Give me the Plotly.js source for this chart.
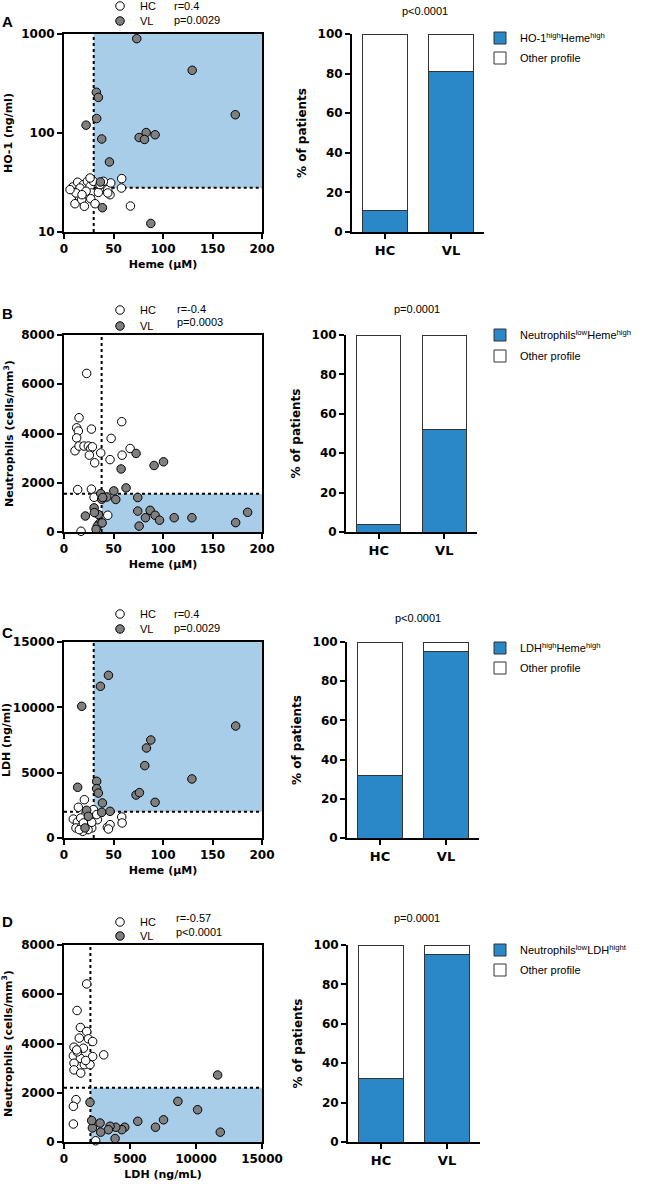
<!DOCTYPE html>
<html><head><meta charset="utf-8">
<script src="https://cdn.plot.ly/plotly-3.0.1.min.js"></script>
<style>html,body{margin:0;padding:0;background:#fff}</style>
</head><body><div id="chart" style="width:645px;height:1184px"></div>
<script>
// ---------- DATA ----------
// Panel A: Heme (uM) vs HO-1 (ng/ml)
const A_HC_heme = [8.8,11.1,13.8,13.5,15.2,17.9,20.6,19.6,23.6,26.3,28.0,27.0,31.4,29.7,34.7,36.4,44.2,47.2,46.5,58.3,58.0,67.1,16.2,22.3,12.1,18.2,26.3,39.8,44.2,6.1];
const A_HC_ho1  = [28.5,19.3,31.8,25.8,22.9,21.2,18.2,30.1,32.5,28.9,24.8,21.7,19.3,32.5,25.1,30.1,26.8,31.3,23.8,34.6,27.8,18.3,27.8,25.8,24.8,23.8,35.1,32.5,24.8,26.8];
const A_VL_heme = [73.5,129.5,173.0,32.7,34.7,33.0,22.3,38.1,75.9,83.0,81.3,92.0,45.9,36.8,38.8,87.7];
const A_VL_ho1  = [897,430,153,258,229,140,120,87,90,101,86,96,51,32,17.6,12.2];
const A_cut = [30, 28];        // heme cut, HO-1 cut
// Panel B: Heme vs Neutrophils
const B_HC_heme = [22.9,15.2,12.8,14.5,12.8,27.7,58.3,47.6,11.1,15.2,20.2,24.6,27.0,28.7,25.6,31.0,37.1,46.5,58.7,66.8,13.8,27.7,30.4,44.2,17.2];
const B_HC_neut = [6440,4640,4230,4100,3820,4180,4480,3800,3300,3490,3490,3490,3390,3460,3120,2810,3210,2940,3120,3390,1720,1740,1410,680,30];
const B_VL_heme = [72.8,91.0,100.5,57.7,62.7,50.3,52.3,43.2,37.1,38.1,39.1,74.5,30.4,21.6,34.7,35.8,33.7,32.4,38.5,74.5,75.9,82.3,87.0,92.0,96.5,111.3,129.2,173.4,185.5,30.7];
const B_VL_neut = [3190,2700,2850,2560,1790,1670,1320,1420,1560,1330,1400,1400,980,650,710,350,240,110,370,850,240,580,880,680,480,580,580,380,800,790];
const B_cut = [38, 1550];
// Panel C: Heme vs LDH
const C_HC_heme = [20.6,14.5,9.4,13.5,12.1,17.9,23.6,26.3,29.7,31.4,33.7,28.0,24.3,18.9,15.5,43.8,46.5,44.9,58.3,58.7,22.3,16.9,28.0,33.0,19.6];
const C_HC_ldh  = [2930,2350,1450,1220,770,890,1220,1790,2170,1530,1400,770,640,510,640,820,1020,690,1610,1150,1910,1530,1200,1790,1150];
const C_VL_heme = [44.9,36.8,17.9,173.4,87.7,83.3,81.6,129.2,33.0,33.0,34.7,13.8,72.8,76.2,92.0,38.8,38.1,46.5,22.9,21.2,24.6];
const C_VL_ldh  = [12450,11610,10080,8570,7500,6890,5540,4520,4340,3780,3440,3880,3290,3470,2730,2680,1960,2040,2120,770,1660];
const C_cut = [30, 2000];
// Panel D: LDH vs Neutrophils
const D_HC_ldh  = [1720,990,1240,1720,1160,1850,2170,760,1470,960,710,1240,1540,1970,2170,760,760,1270,3010,1010,910,710,710,2400,1640,960];
const D_HC_neut = [6420,5340,4650,4490,4220,4190,4080,3850,3810,3470,3500,3400,3140,3140,3470,3200,2930,2800,3540,3660,1720,1450,730,50,3310,3740];
const D_VL_ldh  = [11640,8630,10120,7540,6930,5590,4600,4380,3920,3490,3360,2780,2730,2150,2100,1970,11840,3870];
const D_VL_neut = [2720,1650,1310,900,600,840,600,500,600,640,500,400,770,570,870,1610,400,140];
const D_cut = [2000, 2200];
// Bars: % of patients
const groups = ['HC','VL'];
const A_high = [11, 81], A_other = [89, 19];
const B_high = [4, 52],  B_other = [96, 48];
const C_high = [32, 95], C_other = [68, 5];
const D_high = [32, 95], D_other = [68, 5];
const barNames = ['HO-1<sup>high</sup>Heme<sup>high</sup>','Neutrophils<sup>low</sup>Heme<sup>high</sup>','LDH<sup>high</sup>Heme<sup>high</sup>','Neutrophils<sup>low</sup>LDH<sup>hight</sup>'];
const barP = ['p<0.0001','p=0.0001','p<0.0001','p=0.0001'];
const corrR = ['r=0.4','r=-0.4','r=0.4','r=-0.57'];
const corrP = ['p=0.0029','p=0.0003','p=0.0029','p<0.0001'];

// ---------- STYLE ----------
const W = 645, H = 1184;
const REG = 'Liberation Sans, Arial, sans-serif';
const BOLD = 'DejaVu Sans, Arial, sans-serif';
const SHADE = '#a7cde9', BLUE = '#2a87c8', GRAY = '#7f7f7f';
const fx = p => p / W, fy = p => 1 - p / H;

// panel pixel geometry [top, bottom]
const rows = [[34,232],[335,532],[642,838],[945,1142]];
const scX = [64, 262];
const barX = [[352,484],[346,477],[347,479],[348,480]];

const tickFont = {family: BOLD, size: 12, weight: 'bold', color: '#000'};
const titleFont = {family: BOLD, size: 11, weight: 'bold', color: '#000'};

function baseAxis(extra) {
  return Object.assign({
    showline: true, linewidth: 2, linecolor: '#000', ticks: 'outside', ticklen: 5, tickwidth: 2,
    tickcolor: '#000', showgrid: false, zeroline: false, tickfont: tickFont, fixedrange: true, automargin: false
  }, extra);
}

const layout = {
  width: W, height: H, margin: {l:0, r:0, t:0, b:0, autoexpand: false}, paper_bgcolor: '#fff', plot_bgcolor: 'rgba(0,0,0,0)',
  barmode: 'stack', showlegend: true, shapes: [], annotations: []
};
const traces = [];

const scatterSets = [
  {hx: A_HC_heme, hy: A_HC_ho1, vx: A_VL_heme, vy: A_VL_ho1, cut: A_cut, xr:[0,200], yr:[10,1000], log:true,
   xt: 'Heme (μM)', yt: 'HO-1 (ng/ml)', xd: 50, yd: null, ystand: 6},
  {hx: B_HC_heme, hy: B_HC_neut, vx: B_VL_heme, vy: B_VL_neut, cut: B_cut, xr:[0,200], yr:[0,8000],
   xt: 'Heme (μM)', yt: 'Neutrophils (cells/mm<sup>3</sup>)', xd: 50, yd: 2000, ystand: 5},
  {hx: C_HC_heme, hy: C_HC_ldh, vx: C_VL_heme, vy: C_VL_ldh, cut: C_cut, xr:[0,200], yr:[0,15000],
   xt: 'Heme (μM)', yt: 'LDH (ng/ml)', xd: 50, yd: 5000, ystand: 3},
  {hx: D_HC_ldh, hy: D_HC_neut, vx: D_VL_ldh, vy: D_VL_neut, cut: D_cut, xr:[0,15000], yr:[0,8000],
   xt: 'LDH (ng/mL)', yt: 'Neutrophils (cells/mm<sup>3</sup>)', xd: 5000, yd: 2000, ystand: 7}
];
const barSets = [[A_high, A_other],[B_high, B_other],[C_high, C_other],[D_high, D_other]];

// legend / label positions (px)
const scLeg = [[6,21],[310,326],[614,629],[922,936]];
const rpY = [[6,20],[309,322],[614,628],[918,932]];
const rpX = [172,175,172,174];
const letterY = [22,313,632,921];
const barLegY = [[38,58],[335,356],[648,668],[950,970]];
const barTitle = [[425,11],[417,309],[418,618],[417,918]];

let legN = 1;
function legName() { const n = legN++; return n === 1 ? 'legend' : 'legend' + n; }
function legLayout(xPx, yPx) {
  return {x: fx(xPx), y: fy(yPx), xanchor: 'left', yanchor: 'middle', bgcolor: 'rgba(0,0,0,0)',
          borderwidth: 0, font: {family: REG, size: 11, color: '#000'}, itemclick: false, itemdoubleclick: false};
}

scatterSets.forEach((s, i) => {
  const xi = 2*i + 1, yi = 2*i + 1;
  const xk = 'xaxis' + (xi === 1 ? '' : xi), yk = 'yaxis' + (yi === 1 ? '' : yi);
  const xr = 'x' + (xi === 1 ? '' : xi), yr = 'y' + (yi === 1 ? '' : yi);
  const [top, bot] = rows[i];
  layout[xk] = baseAxis({domain: [fx(scX[0]), fx(scX[1])], anchor: yr, range: s.xr, dtick: s.xd, tick0: 0,
    mirror: true, tickformat: 'd', title: {text: s.xt, font: titleFont, standoff: 5}});
  const ya = {domain: [fy(bot), fy(top)], anchor: xr, mirror: true,
    title: {text: s.yt, font: titleFont, standoff: s.ystand}};
  if (s.log) { ya.type = 'log'; ya.range = [Math.log10(s.yr[0]), Math.log10(s.yr[1])];
               ya.tickvals = [10,100,1000]; ya.ticktext = ['10','100','1000']; }
  else { ya.range = s.yr; ya.dtick = s.yd; ya.tick0 = 0; ya.tickformat = 'd'; }
  layout[yk] = baseAxis(ya);

  const l1 = legName(), l2 = legName();
  traces.push({type:'scatter', mode:'markers', x: s.hx, y: s.hy, xaxis: xr, yaxis: yr, name: 'HC', legend: l1,
    cliponaxis: false, marker: {size: 8.5, color: '#fff', line: {color: '#000', width: 1}}, hoverinfo: 'skip'});
  traces.push({type:'scatter', mode:'markers', x: s.vx, y: s.vy, xaxis: xr, yaxis: yr, name: 'VL', legend: l2,
    cliponaxis: false, marker: {size: 8.5, color: GRAY, line: {color: '#000', width: 1}}, hoverinfo: 'skip'});
  layout[l1] = legLayout(100, scLeg[i][0]);
  layout[l2] = legLayout(100, scLeg[i][1]);

  // threshold region + dotted lines (data values)
  const [cx, cy] = s.cut;
  const yTop = s.yr[1], yBot = s.yr[0];
  let shade;
  if (i === 0 || i === 2) shade = {x0: cx, x1: s.xr[1], y0: cy, y1: yTop};
  else shade = {x0: cx, x1: s.xr[1], y0: yBot, y1: cy};
  layout.shapes.push(Object.assign({type:'rect', xref: xr, yref: yr, fillcolor: SHADE, line: {width: 0}, layer: 'below'}, shade));
  layout.shapes.push({type:'line', xref: xr, yref: yr, x0: cx, x1: cx, y0: yBot, y1: yTop, layer: 'below',
    line: {color: '#000', width: 2, dash: 'dot'}});
  layout.shapes.push({type:'line', xref: xr, yref: yr, x0: (i === 0 ? cx : s.xr[0]), x1: s.xr[1], y0: cy, y1: cy, layer: 'below',
    line: {color: '#000', width: 2, dash: 'dot'}});

  // r / p text and panel letter
  layout.annotations.push({xref:'paper', yref:'paper', x: fx(rpX[i]), y: fy(rpY[i][0]), xanchor:'left', yanchor:'middle',
    text: corrR[i], showarrow: false, font: {family: REG, size: 11, color: '#000'}});
  layout.annotations.push({xref:'paper', yref:'paper', x: fx(rpX[i]), y: fy(rpY[i][1]), xanchor:'left', yanchor:'middle',
    text: corrP[i], showarrow: false, font: {family: REG, size: 11, color: '#000'}});
  layout.annotations.push({xref:'paper', yref:'paper', x: fx(7), y: fy(letterY[i]), xanchor:'center', yanchor:'middle',
    text: '<b>' + 'ABCD'[i] + '</b>', showarrow: false, font: {family: REG, size: 15, color: '#000'}});
});

barSets.forEach((b, i) => {
  const xi = 2*i + 2, yi = 2*i + 2;
  const xk = 'xaxis' + xi, yk = 'yaxis' + yi, xr = 'x' + xi, yr = 'y' + yi;
  const [top, bot] = rows[i];
  layout[xk] = baseAxis({domain: [fx(barX[i][0]), fx(barX[i][1])], anchor: yr, range: [-0.5, 1.5], type: 'category',
    tickfont: {family: BOLD, size: 13, weight: 'bold', color: '#000'}});
  layout[yk] = baseAxis({domain: [fy(bot), fy(top)], anchor: xr, range: [0, 100], dtick: 20, tick0: 0,
    title: {text: '% of patients', font: {family: BOLD, size: 12, weight: 'bold', color: '#000'}, standoff: 8}});
  const l1 = legName(), l2 = legName();
  traces.push({type:'bar', x: groups, y: b[0], xaxis: xr, yaxis: yr, name: barNames[i], legend: l1, width: 0.67,
    marker: {color: BLUE, line: {color: '#333', width: 1}}, hoverinfo: 'skip'});
  traces.push({type:'bar', x: groups, y: b[1], xaxis: xr, yaxis: yr, name: 'Other profile', legend: l2, width: 0.67,
    marker: {color: '#fff', line: {color: '#333', width: 1}}, hoverinfo: 'skip'});
  layout[l1] = legLayout(480, barLegY[i][0]);
  layout[l2] = legLayout(480, barLegY[i][1]);
  layout.annotations.push({xref:'paper', yref:'paper', x: fx(barTitle[i][0]), y: fy(barTitle[i][1]), xanchor:'center', yanchor:'middle',
    text: barP[i], showarrow: false, font: {family: REG, size: 11, color: '#000'}});
});

Plotly.newPlot('chart', traces, layout, {staticPlot: true, displayModeBar: false});
</script></body></html>
